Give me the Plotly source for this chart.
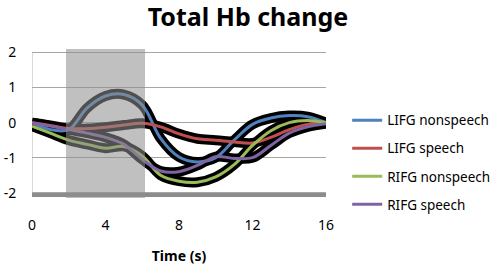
import plotly.graph_objects as go

time_s = list(range(0, 17))
series_names = ["LIFG nonspeech", "LIFG speech", "RIFG nonspeech", "RIFG speech"]
lifg_nonspeech = [0, -0.2, -0.2, 0.42, 0.76, 0.8, 0.5, -0.45, -0.98, -1.12, -1.0, -0.5, -0.05, 0.13, 0.2, 0.17, 0]
lifg_speech = [0, -0.08, -0.17, -0.17, -0.13, -0.07, -0.02, -0.12, -0.32, -0.46, -0.5, -0.55, -0.58, -0.42, -0.2, -0.05, 0]
rifg_nonspeech = [-0.1, -0.3, -0.5, -0.62, -0.73, -0.68, -0.95, -1.5, -1.67, -1.7, -1.55, -1.2, -0.65, -0.23, 0.0, 0.06, 0]
rifg_speech = [0, -0.1, -0.2, -0.3, -0.42, -0.62, -1.05, -1.38, -1.4, -1.22, -0.97, -1.02, -1.0, -0.65, -0.3, -0.12, -0.03]
series_values = [lifg_nonspeech, lifg_speech, rifg_nonspeech, rifg_speech]
series_colors = ["#4F81BD", "#C0504D", "#9BBB59", "#8064A2"]
stim_start, stim_end = 1.85, 6.15
x_ticks = [0, 4, 8, 12, 16]
y_ticks = [-2, -1, 0, 1, 2]
y_tick_labels = ["-2", "-1", "0", "1", "2"]

fig = go.Figure()
for vals in series_values:
    fig.add_trace(go.Scatter(x=time_s, y=vals, mode="lines",
                             line=dict(color="black", width=10, shape="spline"),
                             showlegend=False, hoverinfo="skip"))
for name, vals, col in zip(series_names, series_values, series_colors):
    fig.add_trace(go.Scatter(x=time_s, y=vals, mode="lines", name=name,
                             legendgroup=name,
                             line=dict(color=col, width=3, shape="spline")))

# axis bar at bottom
fig.add_shape(type="line", xref="x", yref="y", x0=0, x1=16, y0=-2.05, y1=-2.05,
              line=dict(color="#8c8c8c", width=5), layer="below")
fig.add_shape(type="line", xref="x", yref="y", x0=0, x1=0, y0=-2, y1=2,
              line=dict(color="#b4b4b4", width=1), layer="below")
# stimulus window overlay
fig.add_shape(type="rect", xref="x", yref="paper", x0=stim_start, x1=stim_end, y0=0, y1=1,
              fillcolor="rgb(143,143,143)", opacity=0.56, line=dict(width=0), layer="above")

font = "Noto Sans"
fig.update_layout(
    width=496, height=268,
    margin=dict(l=32, r=170, t=48.5, b=69.7, autoexpand=False),
    paper_bgcolor="white", plot_bgcolor="white",
    title=dict(text="<b>Total Hb change</b>", x=0.5, xanchor="center", y=0.937, yanchor="middle",
               font=dict(family=font, size=25, color="black")),
    xaxis=dict(range=[0, 16], tickvals=x_ticks, showgrid=False, zeroline=False, automargin=False,
               ticks="outside", ticklen=14, tickcolor="rgba(0,0,0,0)",
               tickfont=dict(family=font, size=14, color="black"),
               title=dict(text="<b>Time (s)</b>", font=dict(family=font, size=14, color="black"), standoff=18)),
    yaxis=dict(range=[-2.15, 2.1], tickvals=y_ticks, ticktext=y_tick_labels, showgrid=True,
               gridcolor="#a6a6a6", gridwidth=1, automargin=False,
               zeroline=False, ticks="outside", ticklen=12, tickcolor="rgba(0,0,0,0)",
               tickfont=dict(family=font, size=14, color="black")),
    legend=dict(x=1.072, xanchor="left", y=0.625, yanchor="top", tracegroupgap=7.5,
                font=dict(family=font, size=13.5, color="black"), bgcolor="rgba(0,0,0,0)"),
    showlegend=True,
)
fig.write_html("out.html", config={"displayModeBar": False},
               post_script="document.body.style.margin='0px';")
